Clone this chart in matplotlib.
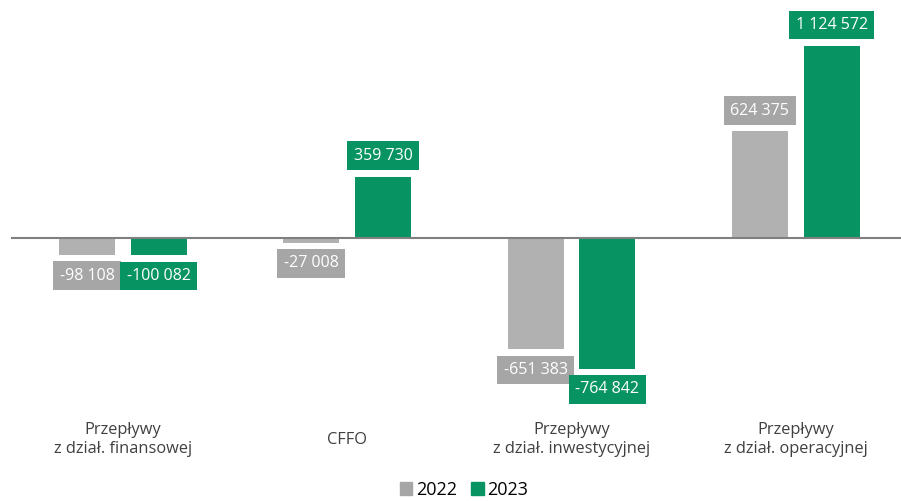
import numpy as np
import matplotlib.pyplot as plt
from matplotlib.patches import Patch

plt.rcParams['font.family'] = ['Open Sans', 'DejaVu Sans']

categories = ['Przepływy\nz dział. finansowej', 'CFFO',
              'Przepływy\nz dział. inwestycyjnej', 'Przepływy\nz dział. operacyjnej']
years = ['2022', '2023']
v2022 = [-98108, -27008, -651383, 624375]
v2023 = [-100082, 359730, -764842, 1124572]

gray_bar = '#b1b1b1'
gray_box = '#a6a6a6'
green = '#079462'

fig = plt.figure(figsize=(9.01, 5.01), dpi=100)
ax = fig.add_axes([0, 0, 1, 1])
ax.set_xlim(-0.548, 3.469)
ax.set_ylim(-1539813, 1393442)
ax.axis('off')

x = np.arange(len(categories))
w = 0.25
off = 0.16
ax.bar(x - off, v2022, w, color=gray_bar, zorder=2)
ax.bar(x + off, v2023, w, color=green, zorder=2)
ax.plot([-0.495, 3.469], [0, 0], color='#808080', lw=1.5, zorder=3)


def fmt(v):
    return f"{v:,}".replace(",", " ")


for vals, dx, box in [(v2022, -off, gray_box), (v2023, off, green)]:
    for xi, v in zip(x, vals):
        dy = 15 if v > 0 else -15
        ax.annotate(fmt(v), (xi + dx, v), xytext=(0, dy), textcoords='offset points',
                    ha='center', va='center', color='white', fontsize=11.5,
                    bbox=dict(boxstyle='square,pad=0.4', fc=box, ec='none'), zorder=5)

for xi, c in zip(x, categories):
    ax.text(xi, -1180000, c, ha='center', va='center', fontsize=11.8,
            color='#404040', linespacing=1.2)

handles = [Patch(color=gray_box), Patch(color=green)]
fig.legend(handles, years, loc='lower center', ncol=2, frameon=False,
           fontsize=13, handlelength=0.7, handleheight=0.8, handletextpad=0.2,
           columnspacing=0.8, borderaxespad=0.0, bbox_to_anchor=(0.515, -0.01))

fig.savefig('out.png', dpi=100)
